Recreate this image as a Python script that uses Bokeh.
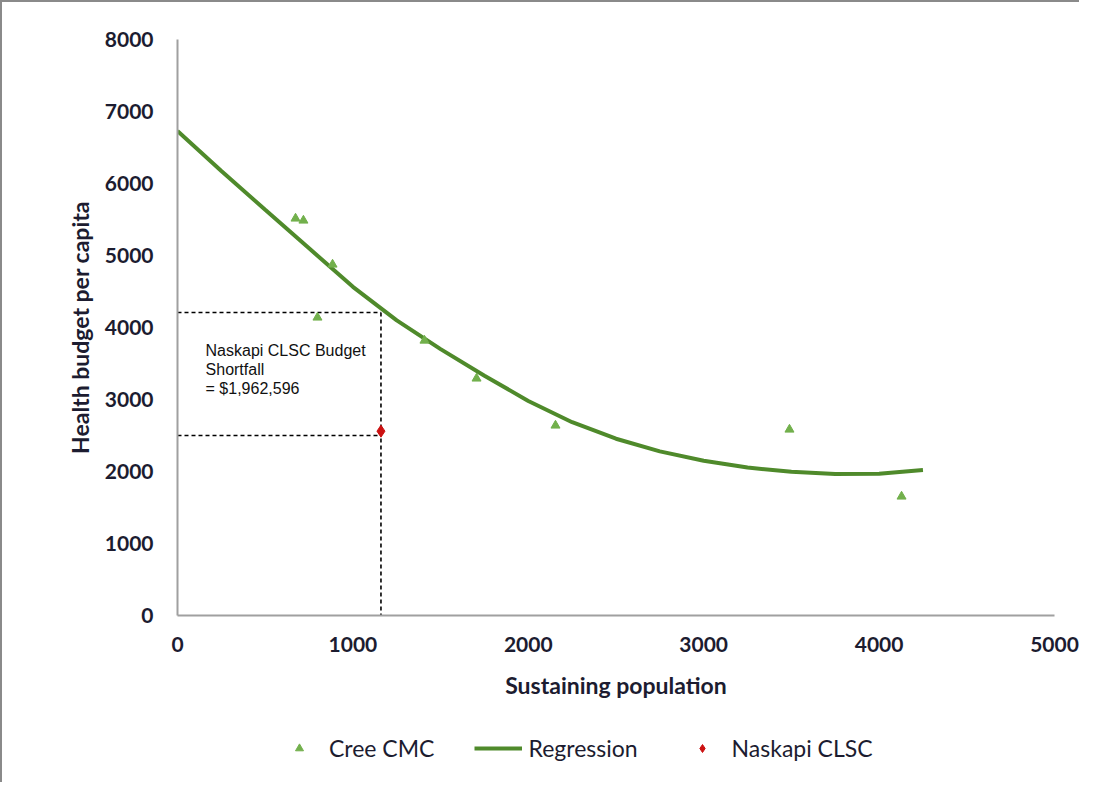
from bokeh.plotting import figure
from bokeh.models import Range1d, Legend, LegendItem, Label, FixedTicker
from bokeh.layouts import column
from bokeh.embed import file_html
from bokeh.resources import INLINE

# Data
cree_x = [673, 718, 884, 798, 1408, 1705, 2155, 3489, 4128]
cree_y = [5514, 5486, 4875, 4139, 3819, 3292, 2639, 2583, 1653]

naskapi_x = [1160]
naskapi_y = [2560]

reg_x = [0, 250, 500, 750, 1000, 1250, 1500, 1750, 2000, 2250, 2500, 2750,
         3000, 3250, 3500, 3750, 4000, 4250]
reg_y = [6730, 6175, 5635, 5100, 4565, 4100, 3700, 3330, 2980, 2685, 2455, 2280,
         2150, 2055, 1995, 1965, 1970, 2020]

# guide lines (shortfall box)
guide_x = 1160
guide_top = 4208
guide_bottom = 2500

x_ticks = [0, 1000, 2000, 3000, 4000, 5000]
y_ticks = [0, 1000, 2000, 3000, 4000, 5000, 6000, 7000, 8000]

annot_lines = ["Naskapi CLSC Budget", "Shortfall", "= $1,962,596"]
series_names = ["Cree CMC", "Regression", "Naskapi CLSC"]

FONT = "Lato"
TXT = "#1c1c30"
AXC = "#a0a0a0"
REG_C = "#4f8a2b"
CREE_C = "#72b04c"
NAS_C = "#cc1111"

p = figure(width=1077, height=720, output_backend="svg", toolbar_location=None,
           x_range=Range1d(0, 5000), y_range=Range1d(0, 8000),
           min_border_left=175, min_border_right=25, min_border_top=37,
           min_border_bottom=107)
p.outline_line_color = None
p.grid.visible = False
p.background_fill_color = "white"
p.border_fill_color = "white"

for ax in (p.xaxis[0], p.yaxis[0]):
    ax.axis_line_color = AXC
    ax.axis_line_width = 2
    ax.major_tick_line_color = None
    ax.minor_tick_line_color = None
    ax.major_label_text_font = FONT
    ax.major_label_text_font_style = "bold"
    ax.major_label_text_font_size = "21px"
    ax.major_label_text_color = TXT
    ax.axis_label_text_font = FONT
    ax.axis_label_text_font_style = "bold"
    ax.axis_label_text_font_size = "23px"
    ax.axis_label_text_color = TXT

p.xaxis[0].ticker = FixedTicker(ticks=x_ticks)
p.yaxis[0].ticker = FixedTicker(ticks=y_ticks)
p.xaxis[0].major_label_standoff = 15
p.yaxis[0].major_label_standoff = 18
p.xaxis[0].axis_label = "Sustaining population"
p.yaxis[0].axis_label = "Health budget per capita"
p.xaxis[0].axis_label_standoff = 16
p.yaxis[0].axis_label_standoff = 8

# dotted guide lines
p.segment(x0=[0, 0, guide_x], y0=[guide_top, guide_bottom, guide_top],
          x1=[guide_x, guide_x, guide_x], y1=[guide_top, guide_bottom, 0],
          line_color="black", line_width=1.6, line_dash="4 3")

p.line(reg_x, reg_y, line_color=REG_C, line_width=4)
p.scatter(cree_x, cree_y, marker="triangle", size=9,
          fill_color=CREE_C, line_color=CREE_C)
p.scatter(naskapi_x, naskapi_y, marker="diamond", size=12,
          fill_color=NAS_C, line_color=NAS_C)

for i, t in enumerate(annot_lines):
    p.add_layout(Label(x=160, y=3800, text=t, y_offset=-19 * i,
                       text_font="Liberation Sans", text_font_size="16px",
                       text_color="#111111", text_baseline="top"))

# legend strip below the chart; its renderers hold the same series but lie
# outside this strip's ranges, so only the legend entries show
lg = figure(width=1077, height=60, output_backend="svg", toolbar_location=None,
            x_range=Range1d(-2, -1), y_range=Range1d(-2, -1),
            min_border=0, x_axis_type=None, y_axis_type=None)
lg.outline_line_color = None
lg.grid.visible = False
lg_cree = lg.scatter(cree_x, cree_y, marker="triangle", size=9,
                     fill_color=CREE_C, line_color=CREE_C)
lg_reg = lg.line(reg_x, reg_y, line_color=REG_C, line_width=4)
lg_nas = lg.scatter(naskapi_x, naskapi_y, marker="diamond", size=12,
                    fill_color=NAS_C, line_color=NAS_C)

legend = Legend(items=[LegendItem(label=series_names[0], renderers=[lg_cree]),
                       LegendItem(label=series_names[1], renderers=[lg_reg]),
                       LegendItem(label=series_names[2], renderers=[lg_nas])],
                orientation="horizontal", location=(98, 20),
                glyph_width=48, label_standoff=6, spacing=40,
                border_line_color=None, background_fill_alpha=0,
                label_text_font=FONT, label_text_font_size="23px",
                label_text_color=TXT, margin=0)
lg.add_layout(legend, "center")

layout = column(p, lg, spacing=0,
                styles={"border-left": "2px solid #8a8a8a",
                        "border-top": "2px solid #8a8a8a"})

open("out.html", "w").write(file_html(layout, INLINE))
